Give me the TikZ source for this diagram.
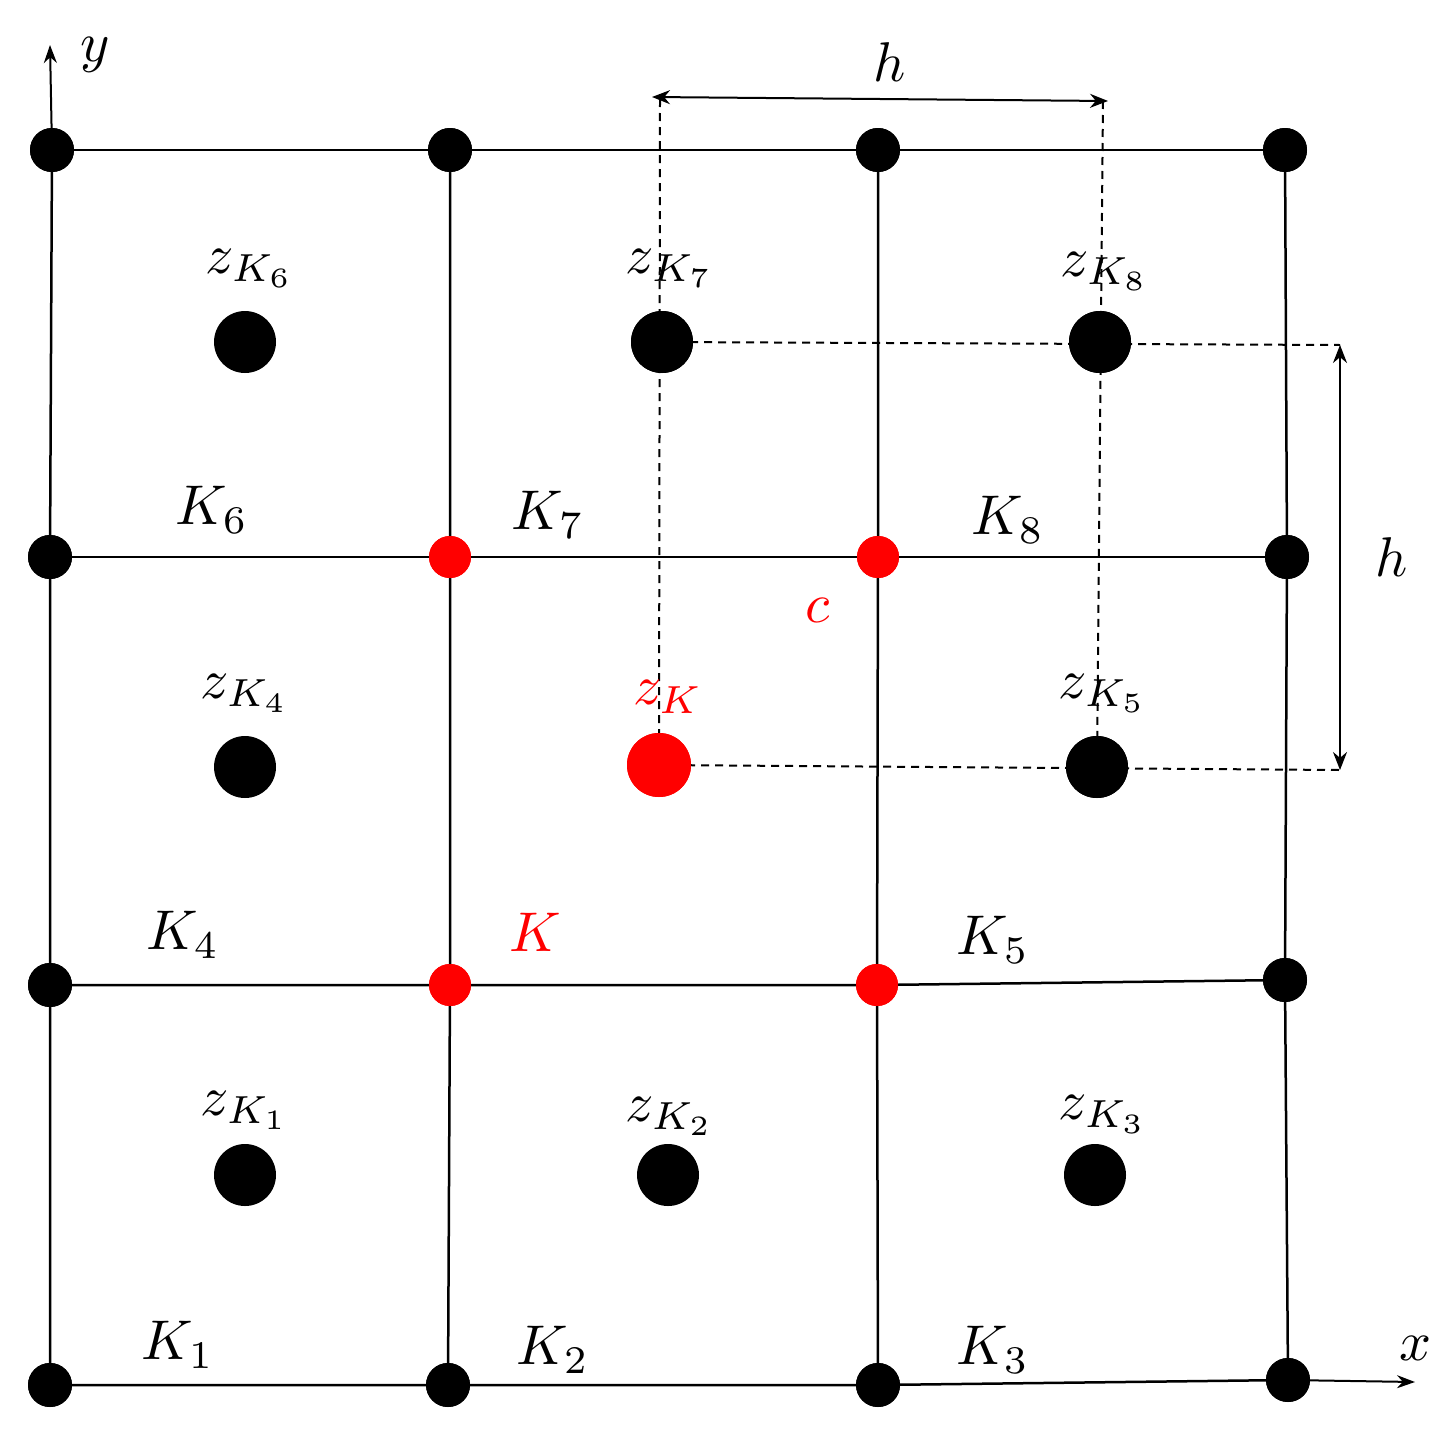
\documentclass[tikz,border=0pt]{standalone}
\usetikzlibrary{arrows.meta}
\begin{document}
\begin{tikzpicture}[x=1pt,y=-1pt,
  sm/.style={circle,fill=black,inner sep=0pt,minimum size=44pt},
  smr/.style={circle,fill=red,inner sep=0pt,minimum size=42pt},
  big/.style={circle,fill=black,inner sep=0pt,minimum size=62pt},
  bigr/.style={circle,fill=red,inner sep=0pt,minimum size=64pt},
  lab/.style={scale=5.6,inner sep=0pt},
  grid/.style={line width=2.5pt},
  dsh/.style={dashed,line width=2pt,dash pattern=on 8pt off 6pt},
  dim/.style={line width=2pt,{Stealth[length=18pt,width=14pt]}-{Stealth[length=18pt,width=14pt]}}]
\useasboundingbox (0,0) rectangle (1453,1429);
\node[sm] (a1) at (52,150) {}; \node[sm] (a2) at (450,150) {}; \node[sm] (a3) at (878,150) {}; \node[sm] (a4) at (1285,150) {};
\node[sm] (b1) at (50,557) {}; \node[smr] (b2) at (450,557) {}; \node[smr] (b3) at (878,557) {}; \node[sm] (b4) at (1287,557) {};
\node[sm] (c1) at (50,985) {}; \node[smr] (c2) at (450,985) {}; \node[smr] (c3) at (877,985) {}; \node[sm] (c4) at (1285,980) {};
\node[sm] (d1) at (50,1385) {}; \node[sm] (d2) at (448,1385) {}; \node[sm] (d3) at (878,1385) {}; \node[sm] (d4) at (1288,1380) {};
\foreach \r in {a,b,c,d}{\draw[grid] (\r1.center)--(\r2.center)--(\r3.center)--(\r4.center);}
\foreach \c in {1,2,3,4}{\draw[grid] (a\c.center)--(b\c.center)--(c\c.center)--(d\c.center);}
\node[sm] at (a1) {}; \node[sm] at (a2) {}; \node[sm] at (a3) {}; \node[sm] at (a4) {};
\node[sm] at (b1) {}; \node[smr] at (b2) {}; \node[smr] at (b3) {}; \node[sm] at (b4) {};
\node[sm] at (c1) {}; \node[smr] at (c2) {}; \node[smr] at (c3) {}; \node[sm] at (c4) {};
\node[sm] at (d1) {}; \node[sm] at (d2) {}; \node[sm] at (d3) {}; \node[sm] at (d4) {};
\coordinate (ytip) at (50,45); \coordinate (xtip) at (1415,1382);
\draw[line width=2pt,-{Stealth[length=18pt,width=13pt]}] (a1.center) -- (ytip);
\draw[line width=2pt,-{Stealth[length=18pt,width=13pt]}] (d4.center) -- (xtip);
\node[lab] (ly) at (95,55) {$y$};
\node[lab] (lx) at (1415,1348) {$x$};
\node[big] (z6) at (245,342) {}; \node[big] (z7) at (662,342) {}; \node[big] (z8) at (1100,342) {};
\node[big] (z4) at (245,767) {}; \node[bigr] (zk) at (659,765) {}; \node[big] (z5) at (1097,767) {};
\node[big] (z1) at (245,1175) {}; \node[big] (z2) at (668,1175) {}; \node[big] (z3) at (1095,1175) {};
\coordinate (tl) at (660,99); \coordinate (tr) at (1103,101);
\coordinate (r1) at (1340,345); \coordinate (r2) at (1340,770);
\draw[dsh] (tl) -- (zk.center);
\draw[dsh] (tr) -- (z5.center);
\draw[dsh] (z7.center) -- (r1);
\draw[dsh] (zk.center) -- (r2);
\node[big] at (z7) {}; \node[big] at (z8) {}; \node[bigr] at (zk) {}; \node[big] at (z5) {};
\draw[dim] (652,97) -- (1108,101);
\draw[dim] (r1) -- (r2);
\node[lab] (h1) at (890,62) {$h$};
\node[lab] (h2) at (1392,557) {$h$};
\node[lab] at (212,510) {$K_6$}; \node[lab] at (548,515) {$K_7$}; \node[lab] at (1008,520) {$K_8$};
\node[lab] at (183,935) {$K_4$}; \node[lab,text=red] at (535,932) {$K$}; \node[lab] at (993,940) {$K_5$};
\node[lab] at (178,1345) {$K_1$}; \node[lab] at (553,1350) {$K_2$}; \node[lab] at (993,1350) {$K_3$};
\node[lab,text=red] at (818,610) {$c$};
\node[lab] at (250,268) {$z_{K_6}$}; \node[lab] at (670,268) {$z_{K_7}$}; \node[lab] at (1105,271) {$z_{K_8}$};
\node[lab] at (245,693) {$z_{K_4}$}; \node[lab,text=red] at (668,697) {$z_{K}$}; \node[lab] at (1103,693) {$z_{K_5}$};
\node[lab] at (245,1110) {$z_{K_1}$}; \node[lab] at (670,1116) {$z_{K_2}$}; \node[lab] at (1103,1114) {$z_{K_3}$};
\end{tikzpicture}
\end{document}
